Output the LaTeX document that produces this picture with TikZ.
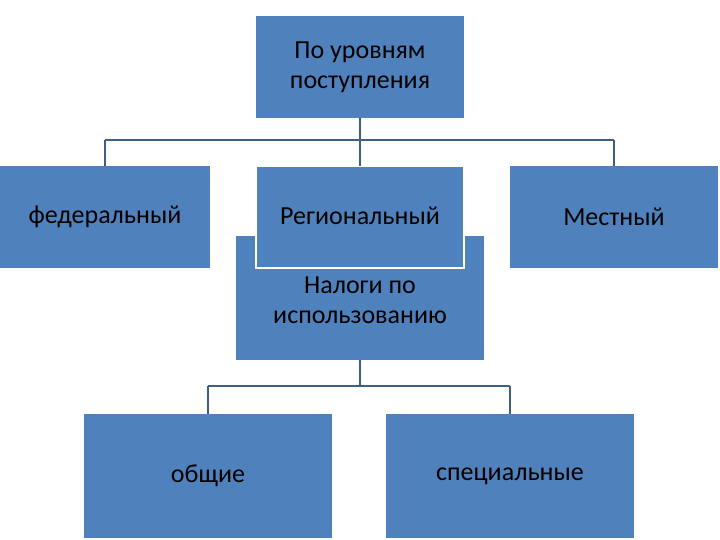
\documentclass[tikz,border=0pt]{standalone}
\usepackage{fontspec}
\setmainfont{Carlito}
\begin{document}
\begin{tikzpicture}[x=1pt,y=-1pt,
  box/.style={draw=none,fill=boxblue,inner sep=0pt},
  txt/.style={font=\fontsize{26}{30}\selectfont,align=center,text=black},
  conn/.style={draw=linecol,line width=2pt}]
\definecolor{boxblue}{HTML}{4F81BD}
\definecolor{linecol}{HTML}{3F5F82}
\useasboundingbox (0,0) rectangle (720,540);
% boxes
\fill[boxblue] (256,16) rectangle (464,118);
\node[txt] (top) at (360,67) {По уровням\\поступления};
\coordinate (topb) at (360,118);
\fill[boxblue] (0,166) rectangle (210,268);
\node[txt] (fed) at (105,217) {федеральный};
\fill[boxblue] (510,166) rectangle (718,268);
\node[txt] (loc) at (614,217) {Местный};
\fill[boxblue] (236,236) rectangle (484,360);
\filldraw[fill=boxblue,draw=white,line width=1.5pt] (256,166) rectangle (464,268);
\node[txt] (reg) at (360,216) {Региональный};
\node[txt] (use) at (360,300) {Налоги по\\использованию};
\fill[boxblue] (84,414) rectangle (332,538);
\node[txt] (gen) at (208,476) {общие};
\fill[boxblue] (386,414) rectangle (634,538);
\node[txt] (spec) at (510,476) {специальные};
% connectors
\coordinate (h1) at (360,140);
\draw[conn] (topb) -- (h1);
\draw[conn] (105,140) -- (614,140);
\draw[conn] (105,140) -- (105,166);
\draw[conn] (360,140) -- (360,166);
\draw[conn] (614,140) -- (614,166);
\draw[conn] (360,360) -- (360,386);
\draw[conn] (208,386) -- (510,386);
\draw[conn] (208,386) -- (208,414);
\draw[conn] (510,386) -- (510,414);
\end{tikzpicture}
\end{document}
